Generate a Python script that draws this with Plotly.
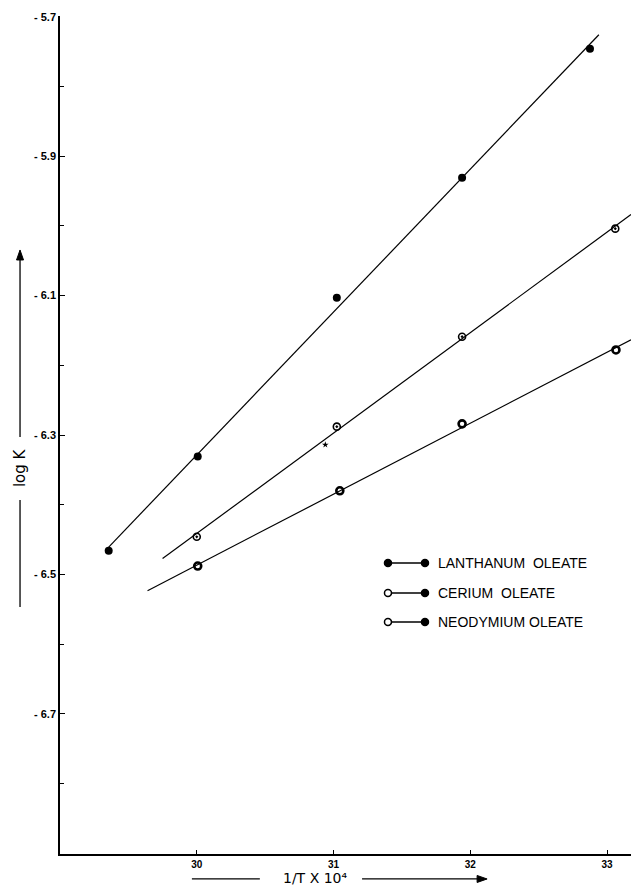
import numpy as np
import plotly.graph_objects as go

# ---- data ----
la_x = [29.356, 30.007, 31.024, 31.94, 32.875]
la_y = [-6.466, -6.331, -6.103, -5.931, -5.746]

ce_x = [30.0, 31.024, 31.94, 33.06]
ce_y = [-6.446, -6.288, -6.159, -6.004]

nd_x = [30.007, 31.046, 31.94, 33.065]
nd_y = [-6.488, -6.380, -6.284, -6.178]

# extents of the fitted straight lines (x values)
la_fit_x = [29.356, 32.94]
ce_fit_x = [29.75, 33.175]
nd_fit_x = [29.64, 33.175]

mark_x = [30.94]
mark_y = [-6.314]

x_ticks = [30, 31, 32, 33]
x_ticklabels = ["30", "31", "32", "33"]
y_ticks = [-5.7, -5.9, -6.1, -6.3, -6.5, -6.7]
y_ticklabels = ["- 5.7", "- 5.9", "- 6.1", "- 6.3", "- 6.5", "- 6.7"]

legend_names = ["LANTHANUM  OLEATE", "CERIUM  OLEATE", "NEODYMIUM OLEATE"]

FONT = "Liberation Sans"
PW, PH = 571.0, 838.0  # plot area size in pixels
fig = go.Figure()


def fit_line(xs, ys, ext):
    k, b = np.polyfit(xs, ys, 1)
    ex = np.array(ext)
    return ex, k * ex + b


for xs, ys, ext in [(la_x, la_y, la_fit_x), (ce_x, ce_y, ce_fit_x), (nd_x, nd_y, nd_fit_x)]:
    lx, ly = fit_line(xs, ys, ext)
    fig.add_trace(go.Scatter(x=lx, y=ly, mode="lines",
                             line=dict(color="black", width=1.2),
                             showlegend=False, hoverinfo="skip"))

fig.add_trace(go.Scatter(x=la_x, y=la_y, mode="markers", name=legend_names[0],
                         marker=dict(symbol="circle", size=8, color="black"),
                         showlegend=False))
fig.add_trace(go.Scatter(x=ce_x, y=ce_y, mode="markers", name=legend_names[1],
                         marker=dict(symbol="circle-open-dot", size=7, color="black",
                                     line=dict(width=1.6)),
                         showlegend=False))
fig.add_trace(go.Scatter(x=nd_x, y=nd_y, mode="markers", name=legend_names[2],
                         marker=dict(symbol="circle-open", size=7, color="black",
                                     line=dict(width=2.6)),
                         showlegend=False))
fig.add_trace(go.Scatter(x=mark_x, y=mark_y, mode="markers",
                         marker=dict(symbol="star", size=5, color="black"),
                         showlegend=False, hoverinfo="skip"))

# ---- hand-drawn style legend (paper coordinates) ----
shapes = []
annotations = []
rows_y = [0.3473, 0.3115, 0.2768]
xl, xr, xt = 0.5744, 0.6392, 0.659
left_fill = ["black", "white", "white"]
for i, (ry, name) in enumerate(zip(rows_y, legend_names)):
    shapes.append(dict(type="line", xref="paper", yref="paper",
                       x0=xl, x1=xr, y0=ry, y1=ry,
                       line=dict(color="black", width=1.5)))
    for xc, fc in [(xl, left_fill[i]), (xr, "black")]:
        shapes.append(dict(type="circle", xref="paper", yref="paper",
                           xsizemode="pixel", ysizemode="pixel",
                           xanchor=xc, yanchor=ry,
                           x0=-3.5, x1=3.5, y0=-3.5, y1=3.5,
                           fillcolor=fc, line=dict(color="black", width=1.5)))
    annotations.append(dict(xref="paper", yref="paper", x=xt, y=ry,
                            text=name, showarrow=False, xanchor="left",
                            yanchor="middle",
                            font=dict(family=FONT, size=14, color="black")))

# ---- axis titles with arrows ----
LW = 1.3
# x title
annotations.append(dict(xref="paper", yref="paper", x=0.446, y=-0.0290,
                        text="1/T X 10⁴", showarrow=False,
                        xanchor="center", yanchor="middle",
                        font=dict(family="DejaVu Sans", size=14, color="black")))
xa_y = -0.0298
shapes.append(dict(type="line", xref="paper", yref="paper",
                   x0=0.231, x1=0.350, y0=xa_y, y1=xa_y,
                   line=dict(color="black", width=LW)))
tip = 0.748
shapes.append(dict(type="line", xref="paper", yref="paper",
                   x0=0.529, x1=tip - 4 / PW, y0=xa_y, y1=xa_y,
                   line=dict(color="black", width=LW)))
dx, dy = 10 / PW, 3.5 / PH
shapes.append(dict(type="path", xref="paper", yref="paper",
                   path=f"M {tip},{xa_y} L {tip - dx},{xa_y + dy} L {tip - dx},{xa_y - dy} Z",
                   fillcolor="black", line=dict(color="black", width=1)))
# y title
ya_x = -0.070
annotations.append(dict(xref="paper", yref="paper", x=ya_x, y=0.4606,
                        text="log K", showarrow=False, textangle=-90,
                        xanchor="center", yanchor="middle",
                        font=dict(family="DejaVu Sans", size=15, color="black")))
ytip = 0.7208
shapes.append(dict(type="line", xref="paper", yref="paper",
                   x0=ya_x, x1=ya_x, y0=0.4976, y1=ytip - 4 / PH,
                   line=dict(color="black", width=LW)))
dx2, dy2 = 3.5 / PW, 10 / PH
shapes.append(dict(type="path", xref="paper", yref="paper",
                   path=f"M {ya_x},{ytip} L {ya_x - dx2},{ytip - dy2} L {ya_x + dx2},{ytip - dy2} Z",
                   fillcolor="black", line=dict(color="black", width=1)))
shapes.append(dict(type="line", xref="paper", yref="paper",
                   x0=ya_x, x1=ya_x, y0=0.4224, y1=0.2947,
                   line=dict(color="black", width=LW)))

fig.update_layout(
    width=631, height=885,
    margin=dict(l=60, r=0, t=16, b=31),
    paper_bgcolor="white", plot_bgcolor="white",
    shapes=shapes, annotations=annotations,
    showlegend=False,
    font=dict(family=FONT, color="black"),
)
fig.update_xaxes(range=[29.0, 33.175], tickvals=x_ticks, ticktext=x_ticklabels,
                 ticks="inside", ticklen=4, tickwidth=1.3, tickcolor="black",
                 showline=True, linecolor="black", linewidth=1.5,
                 showgrid=False, zeroline=False, automargin=False,
                 tickfont=dict(family=FONT, size=10, color="black", weight="bold"))
fig.update_yaxes(range=[-6.901, -5.699], tickvals=y_ticks, ticktext=y_ticklabels,
                 ticks="inside", ticklen=5, tickwidth=1.3, tickcolor="black",
                 minor=dict(tickvals=[-5.8, -6.0, -6.2, -6.4, -6.6, -6.8],
                            ticks="inside", ticklen=4, tickcolor="black"),
                 showline=True, linecolor="black", linewidth=1.5,
                 showgrid=False, zeroline=False, automargin=False,
                 tickfont=dict(family=FONT, size=11, color="black", weight="bold"))

fig.write_html("out.html")
